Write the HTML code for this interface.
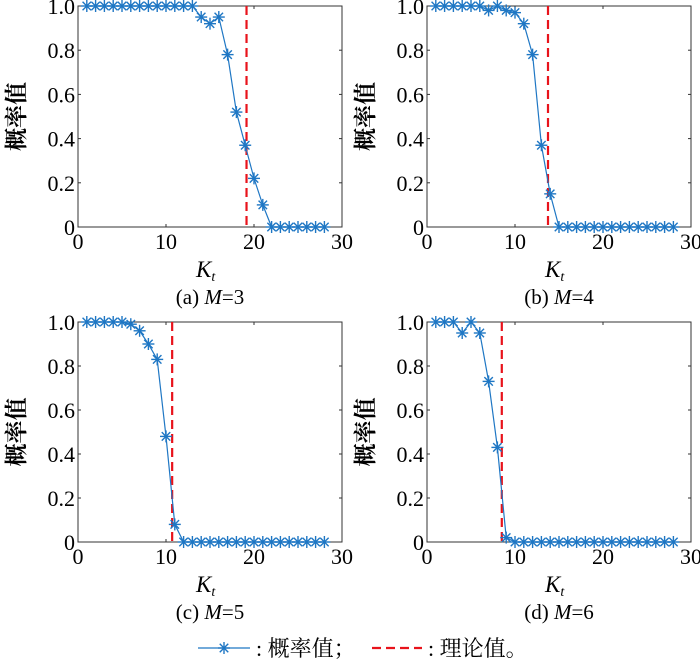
<!DOCTYPE html>
<html><head><meta charset="utf-8"><style>
body{margin:0;background:#fff;}
svg{display:block;}
text{font-family:"Liberation Serif","Noto Serif CJK SC",serif;fill:#000;}
</style></head><body>
<svg id="s" width="700" height="664" viewBox="0 0 700 664" xmlns="http://www.w3.org/2000/svg"></svg>
<script>
const panels=[
 {x0:78,y0:6,y1:227,red:19.15,cap:"(a) ",m:"3",
  d:[1,1,1,1,1,1,1,1,1,1,1,1,1,0.95,0.92,0.95,0.78,0.52,0.37,0.22,0.1,0,0,0,0,0,0,0]},
 {x0:427,y0:6,y1:227,red:13.75,cap:"(b) ",m:"4",
  d:[1,1,1,1,1,1,0.98,1,0.98,0.97,0.92,0.78,0.37,0.15,0,0,0,0,0,0,0,0,0,0,0,0,0,0]},
 {x0:78,y0:322,y1:542,red:10.7,cap:"(c) ",m:"5",
  d:[1,1,1,1,1,0.99,0.96,0.9,0.83,0.48,0.08,0,0,0,0,0,0,0,0,0,0,0,0,0,0,0,0,0]},
 {x0:427,y0:322,y1:542,red:8.5,cap:"(d) ",m:"6",
  d:[1,1,1,0.95,1,0.95,0.73,0.43,0.02,0,0,0,0,0,0,0,0,0,0,0,0,0,0,0,0,0,0,0]}
];
const C="#1f77c4";
let h="";
function star(x,y){let s="";const r=6;
 for(let a=0;a<180;a+=45){const t=a*Math.PI/180;s+=`<line x1="${x-r*Math.cos(t)}" y1="${y-r*Math.sin(t)}" x2="${x+r*Math.cos(t)}" y2="${y+r*Math.sin(t)}" stroke="${C}" stroke-width="1.4"/>`;}
 return s;}
for(const p of panels){
 const W=264,H=p.y1-p.y0,X=v=>p.x0+v*W/30,Y=v=>p.y1-v*H;
 h+=`<rect x="${p.x0}" y="${p.y0}" width="${W}" height="${H}" fill="none" stroke="#333" stroke-width="1"/>`;
 for(let i=0;i<=3;i++){const x=X(i*10);
  h+=`<line x1="${x}" y1="${p.y1}" x2="${x}" y2="${p.y1-3}" stroke="#333"/><line x1="${x}" y1="${p.y0}" x2="${x}" y2="${p.y0+3}" stroke="#333"/>`;
  h+=`<text x="${x}" y="${p.y1+22}" font-size="22" text-anchor="middle">${i*10}</text>`;}
 for(let i=0;i<=5;i++){const y=Y(i*0.2);
  h+=`<line x1="${p.x0}" y1="${y}" x2="${p.x0+3}" y2="${y}" stroke="#333"/><line x1="${p.x0+W}" y1="${y}" x2="${p.x0+W-3}" y2="${y}" stroke="#333"/>`;
  h+=`<text x="${p.x0-3}" y="${y+8}" font-size="22" text-anchor="end">${i==0?"0":(i*0.2).toFixed(1)}</text>`;}
 const cy=(p.y0+p.y1)/2;
 h+=`<text transform="translate(${p.x0-54},${cy}) rotate(-90)" font-size="23" text-anchor="middle" font-family="Noto Serif CJK SC,serif" font-weight="bold">概率值</text>`;
 h+=`<text x="${p.x0+W/2-14}" y="${p.y1+50}" font-size="23" font-style="italic">K<tspan font-size="14" dy="4">t</tspan></text>`;
 h+=`<text x="${p.x0+W/2}" y="${p.y1+77}" font-size="21" text-anchor="middle">${p.cap}<tspan font-style="italic">M</tspan>=${p.m}</text>`;
 const rx=X(p.red);
 h+=`<line x1="${rx}" y1="${p.y0}" x2="${rx}" y2="${p.y1}" stroke="#e8131b" stroke-width="2.2" stroke-dasharray="9,5"/>`;
 h+=`<polyline fill="none" stroke="${C}" stroke-width="1.2" points="${p.d.map((v,i)=>X(i+1)+","+Y(v)).join(" ")}"/>`;
 p.d.forEach((v,i)=>h+=star(X(i+1),Y(v)));
}
h+=`<line x1="198" y1="648" x2="250" y2="648" stroke="${C}" stroke-width="1.3"/>`+star(224,648);
h+=`<text x="256" y="656" font-size="22" font-family="Noto Serif CJK SC,serif">: 概率值；</text>`;
h+=`<line x1="372" y1="648" x2="422" y2="648" stroke="#e8131b" stroke-width="2.2" stroke-dasharray="9,5"/>`;
h+=`<text x="428" y="656" font-size="22" font-family="Noto Serif CJK SC,serif">: 理论值。</text>`;
document.getElementById("s").innerHTML=h;
</script>
</body></html>
